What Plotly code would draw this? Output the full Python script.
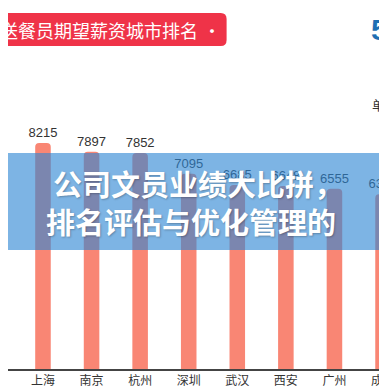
import plotly.graph_objects as go

# Data
cities = ["北京", "上海", "南京", "杭州", "深圳", "武汉", "西安", "广州", "成都"]
salaries = [8404, 8215, 7897, 7852, 7095, 6685, 6648, 6555, 6350]

title_text = "送餐员期望薪资城市排名"
banner_line1 = "公司文员业绩大比拼，"
banner_line2 = "排名评估与优化管理的"
unit_text = "单位：元"

W, H = 387, 387
plot_bottom = 361  # pixel of baseline


def py(p):
    """pixel y (from top) -> paper y"""
    return (plot_bottom - p) / plot_bottom


def px(p):
    return p / W


fig = go.Figure()
fig.add_trace(go.Bar(
    x=cities,
    y=salaries,
    width=0.32,
    marker=dict(color="#f98674", cornerradius=4, line=dict(width=0)),
    text=[str(v) for v in salaries],
    textposition="outside",
    constraintext="none",
    textfont=dict(family="Liberation Sans, Arial, sans-serif", size=13, color="#333333"),
    cliponaxis=False,
    hoverinfo="skip",
))

# red title pill with rounded corners
x0, x1 = px(-20), px(225)
y0, y1 = py(38), py(5)
rx, ry = px(6), 6 / plot_bottom
path = (f"M {x0},{y1} L {x1-rx},{y1} Q {x1},{y1} {x1},{y1-ry} "
        f"L {x1},{y0+ry} Q {x1},{y0} {x1-rx},{y0} L {x0},{y0} Z")

shapes = [
    dict(type="path", xref="paper", yref="paper", path=path,
         fillcolor="#ef3348", line=dict(width=0), layer="above"),
    # translucent blue banner
    dict(type="rect", xref="paper", yref="paper", x0=0, x1=1,
         y0=py(242), y1=py(145), fillcolor="rgba(45,134,211,0.62)",
         line=dict(width=0), layer="above"),
]

annotations = [
    dict(text=title_text, xref="paper", yref="paper", x=px(198), y=py(22),
         xanchor="right", yanchor="middle", showarrow=False,
         font=dict(family="Noto Sans CJK SC", size=18, color="white")),
    dict(text="·", xref="paper", yref="paper", x=px(210), y=py(22),
         xanchor="center", yanchor="middle", showarrow=False,
         font=dict(family="Noto Sans CJK SC", size=18, color="white")),
    dict(text="5", xref="paper", yref="paper", x=px(372), y=py(21),
         xanchor="left", yanchor="middle", showarrow=False,
         font=dict(family="Liberation Sans, Arial", size=30, color="#1f6fb3", weight="bold")),
    dict(text=unit_text, xref="paper", yref="paper", x=px(373), y=py(96),
         xanchor="left", yanchor="middle", showarrow=False,
         font=dict(family="Noto Sans CJK SC", size=13, color="#333333")),
    dict(text=banner_line1, xref="paper", yref="paper", x=px(196), y=py(175),
         xanchor="center", yanchor="middle", showarrow=False,
         font=dict(family="Noto Sans CJK SC", size=29, color="white", weight="bold",
                   shadow="1px 1px 2px rgba(0,0,0,0.25)")),
    dict(text=banner_line2, xref="paper", yref="paper", x=px(188), y=py(213),
         xanchor="center", yanchor="middle", showarrow=False,
         font=dict(family="Noto Sans CJK SC", size=29, color="white", weight="bold",
                   shadow="1px 1px 2px rgba(0,0,0,0.25)")),
]

fig.update_layout(
    width=W, height=H,
    margin=dict(l=0, r=0, t=0, b=H - plot_bottom),
    paper_bgcolor="white", plot_bgcolor="white",
    showlegend=False,
    shapes=shapes,
    annotations=annotations,
    xaxis=dict(
        range=[0.28, 8.02],
        showline=True, linecolor="#444444", linewidth=1.5,
        showgrid=False, zeroline=False,
        ticks="",
        tickfont=dict(family="Noto Sans CJK SC", size=12, color="#333333"),
        fixedrange=True,
    ),
    yaxis=dict(range=[0, 13120], visible=False, showgrid=False, zeroline=False),
)

fig.write_html("out.html")
